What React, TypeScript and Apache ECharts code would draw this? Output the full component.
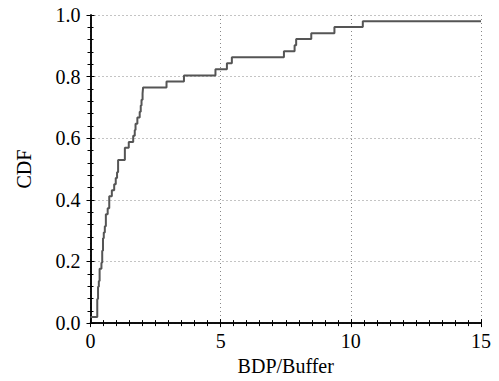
import React, { useEffect, useRef } from "react";
import * as echarts from "echarts";

// Step points of the CDF: x where the CDF jumps, and the CDF value after the jump
const stepX = [0, 0.26, 0.29, 0.32, 0.35, 0.42, 0.45, 0.48, 0.51, 0.55, 0.59, 0.66, 0.72, 0.82, 0.91, 0.97, 1.02, 1.06, 1.32, 1.47, 1.64, 1.7, 1.73, 1.8, 1.89, 1.93, 1.96, 2.0, 2.02, 2.92, 3.59, 4.8, 5.24, 5.43, 7.43, 7.84, 7.9, 8.48, 9.37, 10.46, 15];
const cdfY = [0.02, 0.078, 0.118, 0.137, 0.176, 0.196, 0.235, 0.275, 0.294, 0.314, 0.353, 0.373, 0.412, 0.431, 0.451, 0.471, 0.49, 0.529, 0.569, 0.588, 0.608, 0.627, 0.647, 0.667, 0.686, 0.706, 0.725, 0.745, 0.765, 0.784, 0.804, 0.824, 0.843, 0.863, 0.882, 0.902, 0.922, 0.941, 0.961, 0.98, 0.98];
const yTicks = ["0.0", "0.2", "0.4", "0.6", "0.8", "1.0"];

const FONT = "Liberation Serif";

export default function App() {
  const ref = useRef<HTMLDivElement>(null);
  useEffect(() => {
    if (!ref.current) return;
    const chart = echarts.init(ref.current, null, { renderer: "svg" });
    const axisLine = { show: true, lineStyle: { color: "#000", width: 1.5 } };
    const axisTick = { show: true, inside: true, length: 4, lineStyle: { color: "#000", width: 1 } };
    const minor = (n: number) => ({ show: true, splitNumber: n, length: 3, lineStyle: { color: "#000", width: 1 } });
    const labelStyle = { fontFamily: FONT, fontSize: 20, color: "#000" };
    const split = { show: true, lineStyle: { color: "#888", type: [1, 3], width: 1 } };
    chart.setOption({
      animation: false,
      grid: { left: 90.5, right: 18, top: 15, bottom: 54.5 },
      xAxis: [
        {
          type: "value", min: 0, max: 15, interval: 5,
          name: "BDP/Buffer", nameLocation: "middle", nameGap: 27,
          nameTextStyle: { ...labelStyle, verticalAlign: "top" },
          axisLabel: { ...labelStyle, margin: 8 },
          axisLine, axisTick, minorTick: minor(10), splitLine: split,
        },
        {
          type: "value", position: "top", min: 0, max: 15, interval: 5,
          axisLabel: { show: false },
          axisLine, axisTick, minorTick: minor(10), splitLine: { show: false },
        },
      ],
      yAxis: [
        {
          type: "value", min: 0, max: 1, interval: 0.2,
          name: "CDF", nameLocation: "middle", nameGap: 57, nameRotate: 90,
          nameTextStyle: labelStyle,
          axisLabel: {
            ...labelStyle,
            margin: 10,
            formatter: (v: number) => yTicks[Math.round(v / 0.2)] ?? "",
          },
          axisLine, axisTick, minorTick: minor(5), splitLine: split,
        },
        {
          type: "value", position: "right", min: 0, max: 1, interval: 0.2,
          axisLabel: { show: false },
          axisLine, axisTick, minorTick: minor(5), splitLine: { show: false },
        },
      ],
      series: [
        {
          type: "line", step: "end",
          data: stepX.map((x, i) => [x, cdfY[i]]),
          showSymbol: false,
          lineStyle: { color: "#555", width: 2 },
        },
      ],
    });
    return () => chart.dispose();
  }, []);
  return (
    <>
      <style>{'body{margin:0} #cdf-chart text{font-family:"Liberation Serif","Times New Roman",serif !important;}'}</style>
      <div id="cdf-chart" ref={ref} style={{ width: 499, height: 381 }} />
    </>
  );
}
